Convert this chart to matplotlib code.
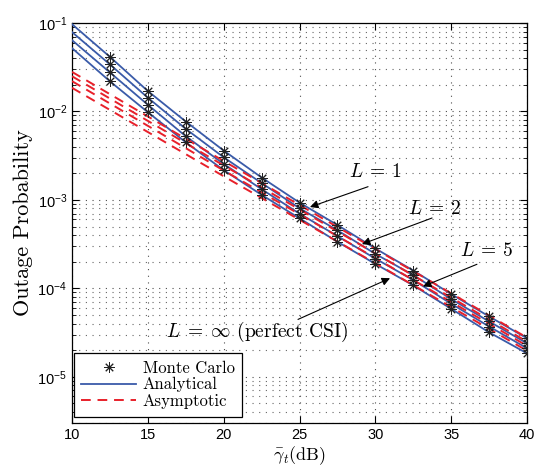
import numpy as np
import matplotlib
matplotlib.use('Agg')
import matplotlib.pyplot as plt

# SNR grid (dB)
snr_db = [10, 12.5, 15, 17.5, 20, 22.5, 25, 27.5, 30, 32.5, 35, 37.5, 40]

# Analytical outage probability
ana_L1 = [0.097, 0.0414, 0.0170, 0.00769, 0.00361, 0.00179, 9.3e-4, 5.2e-4, 2.82e-4, 1.59e-4, 8.6e-5, 4.81e-5, 2.72e-5]
ana_L2 = [0.079, 0.034, 0.0143, 0.00635, 0.00303, 0.00155, 8.05e-4, 4.53e-4, 2.45e-4, 1.41e-4, 7.55e-5, 4.22e-5, 2.39e-5]
ana_L5 = [0.064, 0.0276, 0.0119, 0.00524, 0.00255, 0.00132, 6.99e-4, 3.9e-4, 2.17e-4, 1.24e-4, 6.7e-5, 3.7e-5, 2.1e-5]
ana_Linf = [0.052, 0.0219, 0.0098, 0.00448, 0.00217, 0.00114, 6.19e-4, 3.36e-4, 1.89e-4, 1.08e-4, 5.87e-5, 3.18e-5, 1.84e-5]

# Monte Carlo points (at 12.5 ... 40 dB)
mc_db = [12.5, 15, 17.5, 20, 22.5, 25, 27.5, 30, 32.5, 35, 37.5, 40]
mc_L1 = [0.0414, 0.0170, 0.00769, 0.00361, 0.00179, 9.3e-4, 5.2e-4, 2.82e-4, 1.59e-4, 8.6e-5, 4.81e-5, 2.72e-5]
mc_L2 = [0.034, 0.0143, 0.00635, 0.00303, 0.00155, 8.05e-4, 4.53e-4, 2.45e-4, 1.41e-4, 7.55e-5, 4.22e-5, 2.39e-5]
mc_L5 = [0.0276, 0.0119, 0.00524, 0.00255, 0.00132, 6.99e-4, 3.9e-4, 2.17e-4, 1.24e-4, 6.7e-5, 3.7e-5, 2.1e-5]
mc_Linf = [0.0219, 0.0098, 0.00448, 0.00217, 0.00114, 6.19e-4, 3.36e-4, 1.89e-4, 1.08e-4, 5.87e-5, 3.18e-5, 1.84e-5]

# Asymptotic curves
asy_db = [10, 20, 30, 40]
asy_L1 = [2.8e-2, 2.75e-3, 2.78e-4, 2.77e-5]
asy_L2 = [2.5e-2, 2.45e-3, 2.48e-4, 2.5e-5]
asy_L5 = [2.2e-2, 2.15e-3, 2.2e-4, 2.24e-5]
asy_Linf = [1.85e-2, 1.85e-3, 1.92e-4, 1.97e-5]

blue = '#3a5ba9'
red = '#e8202a'

plt.rcParams['font.family'] = ['Liberation Sans', 'DejaVu Sans']

fig = plt.figure(figsize=(5.36, 4.66), dpi=100)
ax = fig.add_axes([72 / 536, 1 - 423 / 466, 455 / 536, 400 / 466])

ast = (8, 2, 0)
for mc in [mc_L1, mc_L2, mc_L5, mc_Linf]:
    ax.plot(mc_db, mc, linestyle='none', marker=ast, markersize=7.5,
            markeredgewidth=0.7, color='#222222', zorder=4)
for ana in [ana_L1, ana_L2, ana_L5, ana_Linf]:
    ax.plot(snr_db, ana, color=blue, linewidth=1.3, zorder=3)
for asy in [asy_L1, asy_L2, asy_L5, asy_Linf]:
    ax.plot(asy_db, asy, color=red, linewidth=1.4, dashes=(5, 3.5), zorder=3)

ax.set_yscale('log')
ax.set_xlim(10, 40)
ax.set_ylim(3e-6, 1e-1)
ax.set_xticks([10, 15, 20, 25, 30, 35, 40])

dots = (0, (1, 5))
ax.grid(True, which='major', axis='both', linestyle=dots, color='0.3', linewidth=0.8)
ax.grid(True, which='minor', axis='y', linestyle=dots, color='0.4', linewidth=0.8)
ax.tick_params(which='both', direction='in', top=True, right=True, labelsize=10.5)
ax.tick_params(which='major', length=5)
ax.tick_params(which='minor', length=3)
for s in ax.spines.values():
    s.set_linewidth(0.9)

ax.set_ylabel('Outage Probability', family='cmr10', fontsize=16, labelpad=3)
ax.set_xlabel(r'$\bar{\gamma}_t$(dB)', family='cmr10', math_fontfamily='cm',
              fontsize=13, labelpad=2)

# Legend proxies
h_mc, = ax.plot([], [], linestyle='none', marker=ast, markersize=7.5,
                markeredgewidth=0.7, color='#222222')
h_an, = ax.plot([], [], color=blue, linewidth=1.3)
h_as, = ax.plot([], [], color=red, linewidth=1.4, dashes=(5, 3.5))
leg = ax.legend([h_mc, h_an, h_as], ['Monte Carlo', 'Analytical', 'Asymptotic'],
                loc='lower left', bbox_to_anchor=(0.0, 0.012), fancybox=False,
                framealpha=1, edgecolor='k', prop={'family': 'cmr10', 'size': 12},
                handlelength=3.3, borderpad=0.45, labelspacing=0.08,
                handletextpad=0.4, borderaxespad=0.1)
leg.get_frame().set_linewidth(0.9)

arrow = dict(arrowstyle='-|>', color='k', lw=0.8, mutation_scale=12,
             shrinkA=0, shrinkB=0)
txt = dict(fontsize=14, math_fontfamily='cm', family='cmr10',
           ha='center', va='center')

ax.annotate('', xy=(25.69, 8.3e-4), xytext=(29.52, 1.41e-3), arrowprops=arrow)
ax.text(30.04, 2.08e-3, r'$L\:=\:1$', **txt)
ax.annotate('', xy=(29.12, 3.16e-4), xytext=(33.74, 6.24e-4), arrowprops=arrow)
ax.text(33.93, 7.9e-4, r'$L\:=\:2$', **txt)
ax.annotate('', xy=(33.14, 1.05e-4), xytext=(36.7, 1.87e-4), arrowprops=arrow)
ax.text(37.36, 2.63e-4, r'$L\:=\:5$', **txt)
ax.annotate('', xy=(30.97, 1.3e-4), xytext=(24.9, 4.45e-5), arrowprops=arrow)
ax.text(22.2, 3.24e-5, r'$L\;=\;\infty$ (perfect CSI)', **txt)

fig.savefig('out.png', dpi=100)
